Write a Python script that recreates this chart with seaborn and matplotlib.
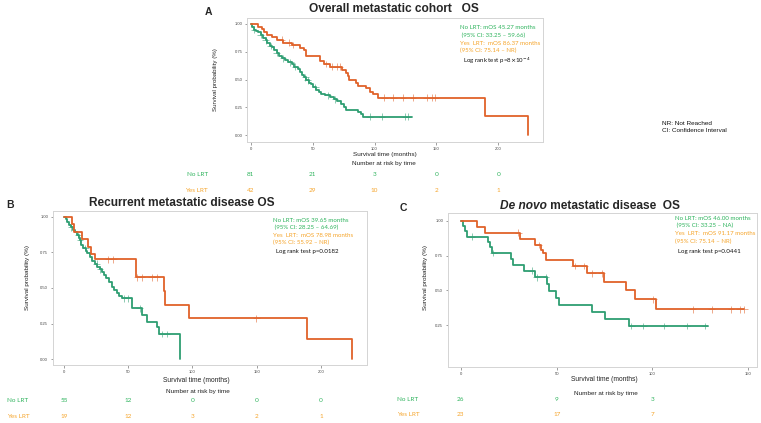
import numpy as np
import pandas as pd
import matplotlib
matplotlib.use("Agg")
import matplotlib.pyplot as plt
import matplotlib.transforms as mtransforms
import seaborn as sns

sns.set_theme(style="white")
plt.rcParams['font.family'] = ['Liberation Sans', 'DejaVu Sans']

# ---------------- data ----------------
# Panel A: overall metastatic cohort
A_no_t = [0, 1, 2.5, 4, 6, 8, 10, 12, 13.5, 15.5, 17.5, 19, 21, 23, 25.5, 28, 30, 33, 35, 38, 40,
          41.5, 43, 45, 47, 49, 50.5, 53, 55, 57, 60, 64, 67, 70, 72.5, 75, 77, 87, 89, 91, 130]
A_no_s = [1.0, 0.975, 0.95, 0.938, 0.926, 0.901, 0.877, 0.852, 0.827, 0.802, 0.790, 0.765, 0.740,
          0.716, 0.691, 0.679, 0.654, 0.642, 0.617, 0.592, 0.568, 0.543, 0.519, 0.494, 0.470, 0.457,
          0.432, 0.408, 0.383, 0.370, 0.358, 0.345, 0.320, 0.307, 0.283, 0.255, 0.226, 0.210, 0.188,
          0.165, 0.165]
A_no_cens = [3, 8, 12, 16, 21, 26, 32, 36, 44, 46, 52, 62, 68, 96, 106, 124.6, 127]
A_yes_t = [0, 6, 9, 11, 13, 17, 21, 26, 33, 40, 43, 45, 56, 59, 64, 74, 77, 78.5, 79.5, 85, 87,
           93, 96, 99, 103, 189, 224]
A_yes_s = [1.0, 0.976, 0.952, 0.929, 0.905, 0.881, 0.857, 0.833, 0.81, 0.786, 0.762, 0.714, 0.664,
           0.639, 0.615, 0.59, 0.56, 0.53, 0.50, 0.47, 0.445, 0.42, 0.39, 0.365, 0.336, 0.168, 0.0]
A_yes_cens = [25, 31, 34, 61, 66, 70, 72, 108, 115, 123, 131, 142, 146, 149]

# Panel B: recurrent metastatic disease
B_no_t = [0, 1.5, 2.5, 4, 5.5, 7, 8.5, 10, 11.5, 12.5, 13.5, 15, 17, 18, 20, 21.5, 24, 26, 28, 29.5,
          31.5, 33, 35, 37, 39, 41, 43, 45, 53, 60.5, 64.5, 72.7, 74.3, 90.4]
B_no_s = [1.0, 0.982, 0.964, 0.945, 0.927, 0.909, 0.89, 0.872, 0.854, 0.835, 0.80, 0.78, 0.76, 0.743,
          0.72, 0.69, 0.67, 0.65, 0.632, 0.614, 0.59, 0.568, 0.545, 0.51, 0.487, 0.463, 0.445, 0.428,
          0.357, 0.31, 0.264, 0.224, 0.178, 0.0]
B_no_cens = [5.5, 11, 12.5, 16.5, 25.5, 28, 47, 50, 59, 76, 80]
B_yes_t = [0, 6, 8, 14, 19, 21, 24, 56, 77.5, 79, 97.5, 189, 224]
B_yes_s = [1.0, 0.947, 0.895, 0.842, 0.789, 0.737, 0.70, 0.575, 0.48, 0.383, 0.287, 0.143, 0.0]
B_yes_cens = [34.5, 38.4, 57, 60.5, 68.3, 72.2, 149.6]

# Panel C: de novo metastatic disease
C_no_t = [0, 1.2, 2.1, 3, 13.9, 15.1, 16.4, 26.4, 27.3, 33, 38.6, 44.7, 45.9, 49.4, 51.2, 68.2,
          75.2, 87.9, 129]
C_no_s = [1.0, 0.962, 0.923, 0.885, 0.846, 0.808, 0.769, 0.727, 0.684, 0.641, 0.594, 0.544, 0.495,
          0.445, 0.396, 0.343, 0.297, 0.245, 0.245]
C_no_cens = [5.6, 16.9, 36.9, 39.5, 44.4, 89, 95.2, 106, 117.8, 127.4]
C_yes_t = [0, 8.5, 12.7, 30.8, 38.6, 41.8, 43, 44.2, 58.3, 65.6, 74.8, 86.1, 90.8, 101.8, 148]
C_yes_s = [1.0, 0.957, 0.913, 0.87, 0.826, 0.79, 0.765, 0.72, 0.675, 0.623, 0.563, 0.503, 0.436,
           0.365, 0.365]
C_yes_cens = [30, 40.5, 59.5, 64.4, 68.6, 73.4, 100.4, 121, 131, 141, 145.6, 148]

# risk tables
A_risk_times = [0, 50, 100, 150, 200]
A_risk_no = [81, 21, 3, 0, 0]
A_risk_yes = [42, 29, 10, 2, 1]
B_risk_times = [0, 50, 100, 150, 200]
B_risk_no = [55, 12, 0, 0, 0]
B_risk_yes = [19, 12, 3, 2, 1]
C_risk_times = [0, 50, 100]
C_risk_no = [26, 9, 3]
C_risk_yes = [23, 17, 7]

# annotations
A_notes = ["No LRT: mOS 45.27 months", " (95% CI: 33.25 \u2013 59.66)",
           "Yes  LRT:  mOS 86.37 months", "(95% CI: 75.14 \u2013 NR)",
           r"Log rank test p=8$\times$10$^{-4}$"]
B_notes = ["No LRT: mOS 39.65 months", " (95% CI: 28.25 \u2013 64.69)",
           "Yes  LRT:  mOS 78.98 months", "(95% CI: 55.92 \u2013 NR)",
           "Log rank test p=0.0182"]
C_notes = ["No LRT: mOS 46.00 months", " (95% CI: 33.25 \u2013 NA)",
           "Yes  LRT:  mOS 91.17 months", "(95% CI: 75.14 \u2013 NR)",
           "Log rank test p=0.0441"]

# ---------------- style ----------------
W, H = 761, 423
GREEN = "#2E9E72"
ORANGE = "#E0622A"
TGREEN = "#2DB35C"
TORANGE = "#F5A42A"
NOTE_FONT = ['Lato', 'DejaVu Sans']

fig = plt.figure(figsize=(W / 100, H / 100), dpi=100)
fig.patch.set_facecolor("white")


def px_axes(left, top, right, bottom):
    return fig.add_axes([left / W, 1 - bottom / H, (right - left) / W, (bottom - top) / H])


def ftext(x, y, s, **kw):
    return fig.text(x / W, 1 - y / H, s, **kw)


def step_value(ts, ss, t):
    idx = np.searchsorted(np.asarray(ts), t, side="right") - 1
    return np.asarray(ss)[idx]


def km_panel(ax, no_t, no_s, no_c, yes_t, yes_s, yes_c):
    pal = {"No LRT": GREEN, "Yes LRT": ORANGE}
    df = pd.concat([
        pd.DataFrame({"t": no_t, "s": no_s, "g": "No LRT"}),
        pd.DataFrame({"t": yes_t, "s": yes_s, "g": "Yes LRT"}),
    ])
    sns.lineplot(data=df, x="t", y="s", hue="g", palette=pal,
                 drawstyle="steps-post", estimator=None, sort=False, lw=1.3, legend=False, ax=ax)
    cdf = pd.concat([
        pd.DataFrame({"t": no_c, "s": step_value(no_t, no_s, no_c), "g": "No LRT"}),
        pd.DataFrame({"t": yes_c, "s": step_value(yes_t, yes_s, yes_c), "g": "Yes LRT"}),
    ])
    sns.scatterplot(data=cdf, x="t", y="s", hue="g", palette=pal,
                    marker="+", s=24, linewidth=0.7, alpha=0.55, legend=False, ax=ax)
    ax.set_xlabel("")
    ax.set_ylabel("")
    for sp in ax.spines.values():
        sp.set_visible(True)
        sp.set_color("#d4d4d4")
        sp.set_linewidth(0.7)
    ax.tick_params(axis="both", which="both", labelsize=3, length=1.8, width=0.4,
                   color="#555555", labelcolor="#444444", pad=1.5, bottom=True, left=True)
    ax.grid(False)


def risk_table(ax, times, no, yes, y_title, y_no, y_yes, label_x, ha, cx_title):
    tr = mtransforms.blended_transform_factory(ax.transData, fig.transFigure)
    ftext(cx_title, y_title, "Number at risk by time", fontsize=4.6, ha="center", va="center",
          color="#222222")
    for t, v in zip(times, no):
        ax.text(t, 1 - y_no / H, str(v), transform=tr, fontsize=4.6, ha="center", va="center",
                color=TGREEN, family=NOTE_FONT, clip_on=False)
    for t, v in zip(times, yes):
        ax.text(t, 1 - y_yes / H, str(v), transform=tr, fontsize=4.6, ha="center", va="center",
                color=TORANGE, family=NOTE_FONT, clip_on=False)
    ftext(label_x, y_no, "No LRT", fontsize=4.6, ha=ha, va="center", color=TGREEN, family=NOTE_FONT)
    ftext(label_x, y_yes, "Yes LRT", fontsize=4.6, ha=ha, va="center", color=TORANGE, family=NOTE_FONT)


def notes(x, ys, lines):
    cols = [TGREEN, TGREEN, TORANGE, TORANGE, "#111111"]
    for i, (y, s, c) in enumerate(zip(ys, lines, cols)):
        ftext(x + (3 if i == 4 else 0), y, s, fontsize=4.4, color=c, va="center", ha="left",
              family=NOTE_FONT)


# ---------------- Panel A ----------------
axA = px_axes(247, 18, 543, 142)
km_panel(axA, A_no_t, A_no_s, A_no_cens, A_yes_t, A_yes_s, A_yes_cens)
axA.set_xlim(-3.0, 236)
axA.set_ylim(-0.063, 1.054)
axA.set_xticks([0, 50, 100, 150, 200])
axA.set_yticks([0, 0.25, 0.5, 0.75, 1.0])
axA.set_yticklabels(["0.00", "0.25", "0.50", "0.75", "1.00"])
ftext(394, 9, "Overall metastatic cohort   OS", fontsize=8.6, fontweight="bold", ha="center",
      va="center")
ftext(208, 12, "A", fontsize=7.5, fontweight="bold", ha="center", va="center")
ftext(215, 80, "Survival probability (%)", fontsize=4.4, rotation=90, ha="center", va="center",
      color="#222222")
ftext(385, 154, "Survival time (months)", fontsize=4.6, ha="center", va="center", color="#222222")
notes(460, [27.3, 35, 43.3, 50.7, 61], A_notes)
risk_table(axA, A_risk_times, A_risk_no, A_risk_yes, 163.5, 174, 190, 208, "right", 384)

# ---------------- Panel B ----------------
axB = px_axes(52.7, 210.7, 366.7, 365)
km_panel(axB, B_no_t, B_no_s, B_no_cens, B_yes_t, B_yes_s, B_yes_cens)
axB.set_xlim(-8.8, 235.7)
axB.set_ylim(-0.040, 1.042)
axB.set_xticks([0, 50, 100, 150, 200])
axB.set_yticks([0, 0.25, 0.5, 0.75, 1.0])
axB.set_yticklabels(["0.00", "0.25", "0.50", "0.75", "1.00"])
ftext(181.7, 202.5, "Recurrent metastatic disease OS", fontsize=8.6, fontweight="bold",
      ha="center", va="center")
ftext(10.5, 205, "B", fontsize=7.5, fontweight="bold", ha="center", va="center")
ftext(28, 278, "Survival probability (%)", fontsize=4.6, rotation=90, ha="center", va="center",
      color="#222222")
ftext(196.5, 380, "Survival time (months)", fontsize=4.8, ha="center", va="center", color="#222222")
notes(273.3, [220, 227.5, 235, 242.7, 251.7], B_notes)
risk_table(axB, B_risk_times, B_risk_no, B_risk_yes, 391, 400, 416, 7, "left", 198.3)

# ---------------- Panel C ----------------
axC = px_axes(447.7, 213.3, 756.7, 367)
km_panel(axC, C_no_t, C_no_s, C_no_cens, C_yes_t, C_yes_s, C_yes_cens)
axC.set_xlim(-6.9, 154.4)
axC.set_ylim(-0.049, 1.053)
axC.set_xticks([0, 50, 100, 150])
axC.set_yticks([0.25, 0.5, 0.75, 1.0])
axC.set_yticklabels(["0.25", "0.50", "0.75", "1.00"])
ftext(403, 208, "C", fontsize=7.5, fontweight="bold", ha="center", va="center")
ftext(425, 278, "Survival probability (%)", fontsize=4.6, rotation=90, ha="center", va="center",
      color="#222222")
ftext(604.7, 379, "Survival time (months)", fontsize=4.8, ha="center", va="center", color="#222222")
notes(675, [218.3, 225.7, 233.3, 241.7, 251.7], C_notes)
risk_table(axC, C_risk_times, C_risk_no, C_risk_yes, 393.3, 399.5, 414.5, 397, "left", 605.8)

# compose the C title: italic "De novo" followed by bold upright text
fig.canvas.draw()
r = fig.canvas.get_renderer()
part1 = ftext(0, 206, "De novo", fontsize=8.6, fontweight="bold", style="italic", va="center")
part2 = ftext(0, 206, " metastatic disease  OS", fontsize=8.6, fontweight="bold", va="center")
w1 = part1.get_window_extent(r).width
w2 = part2.get_window_extent(r).width
start = 590 - (w1 + w2) / 2
part1.set_x(start / W)
part2.set_x((start + w1) / W)

# abbreviations note
ftext(662, 123.5, "NR: Not Reached", fontsize=4.6, ha="left", va="center", color="#111111")
ftext(662, 131, "CI: Confidence Interval", fontsize=4.6, ha="left", va="center", color="#111111")

fig.savefig("out.png", dpi=100, facecolor="white")
